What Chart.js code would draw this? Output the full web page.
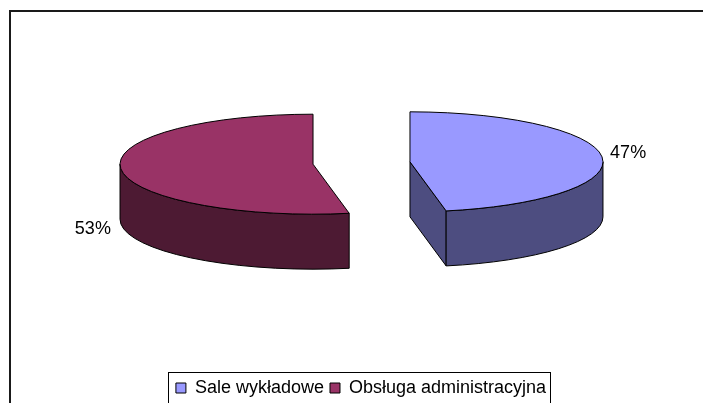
<!DOCTYPE html>
<html>
<head>
<meta charset="utf-8">
<style>
  html, body { margin: 0; padding: 0; background: #fff; }
  canvas { display: block; }
</style>
<script src="https://cdn.jsdelivr.net/npm/chart.js@4.4.1/dist/chart.umd.min.js"></script>
</head>
<body>
<canvas id="pie3d" width="703" height="403"></canvas>
<script>
// dane wykresu
const categories = ['Sale wykładowe', 'Obsługa administracyjna'];
const values = [47, 53];
const topColors = ['#9999FF', '#993366'];
const sideColors = ['#4D4D80', '#4D1A33'];

// wygląd "3D"
const CENTER_X = 361.5;   // środek nierozsuniętego tortu
const CENTER_Y = 163;
const RADIUS = 193;
const TILT = 0.259;       // spłaszczenie elipsy
const DEPTH = 55;         // grubość tortu
const EXPLODE = 48.7;     // rozsunięcie kawałków
const labelNudge = [[26, -4], [-28, 60]];
const FONT = '"Liberation Sans", Arial, sans-serif';

function sliceOrigin(arc) {
    const mid = (arc.startAngle + arc.endAngle) / 2;
    return {
        ox: CENTER_X + EXPLODE * Math.cos(mid),
        oy: CENTER_Y + EXPLODE * TILT * Math.sin(mid)
    };
}

function rim(ox, oy, a, dy) {
    return [ox + RADIUS * Math.cos(a), oy + RADIUS * TILT * Math.sin(a) + (dy || 0)];
}

const pie3dPlugin = {
    id: 'pie3d',
    beforeDraw(chart) {
        const ctx = chart.ctx;
        ctx.save();
        ctx.fillStyle = '#fff';
        ctx.fillRect(0, 0, chart.width, chart.height);
        ctx.restore();
    },
    beforeDatasetsDraw(chart) {
        const ctx = chart.ctx;
        const arcs = chart.getDatasetMeta(0).data;
        const ry = RADIUS * TILT;
        ctx.save();
        ctx.lineWidth = 1;
        ctx.strokeStyle = '#000';
        ctx.lineJoin = 'round';

        arcs.forEach((arc, i) => {
            const {ox, oy} = sliceOrigin(arc);
            const s = arc.startAngle, e = arc.endAngle;
            ctx.fillStyle = sideColors[i];

            // ścianki promieniowe widoczne od przodu
            [[s, s - Math.PI / 2], [e, e + Math.PI / 2]].forEach(([a, n]) => {
                if (Math.sin(n) <= 0.01) return;
                const p = rim(ox, oy, a);
                ctx.beginPath();
                ctx.moveTo(ox, oy);
                ctx.lineTo(p[0], p[1]);
                ctx.lineTo(p[0], p[1] + DEPTH);
                ctx.lineTo(ox, oy + DEPTH);
                ctx.closePath();
                ctx.fill();
                ctx.stroke();
            });

            // przednia ścianka łukowa
            const a0 = Math.max(s, 0), a1 = Math.min(e, Math.PI);
            if (a1 > a0) {
                ctx.beginPath();
                ctx.ellipse(ox, oy, RADIUS, ry, 0, a0, a1);
                const p1 = rim(ox, oy, a1, DEPTH);
                ctx.lineTo(p1[0], p1[1]);
                ctx.ellipse(ox, oy + DEPTH, RADIUS, ry, 0, a1, a0, true);
                ctx.closePath();
                ctx.fill();
                ctx.stroke();
            }

            // wierzch kawałka - rysuje go Chart.js w spłaszczonym układzie
            ctx.save();
            ctx.translate(ox, oy);
            ctx.scale(1, TILT);
            ctx.translate(-arc.x, -arc.y);
            arc.draw(ctx);
            ctx.restore();

            ctx.beginPath();
            ctx.moveTo(ox, oy);
            ctx.ellipse(ox, oy, RADIUS, ry, 0, s, e);
            ctx.closePath();
            ctx.stroke();
        });

        // etykiety procentowe
        const total = values.reduce((a, b) => a + b, 0);
        ctx.fillStyle = '#000';
        ctx.font = '18px ' + FONT;
        ctx.textAlign = 'center';
        ctx.textBaseline = 'middle';
        arcs.forEach((arc, i) => {
            const {ox, oy} = sliceOrigin(arc);
            const mid = (arc.startAngle + arc.endAngle) / 2;
            const p = rim(ox, oy, mid);
            const txt = Math.round(values[i] / total * 100) + '%';
            ctx.fillText(txt, p[0] + labelNudge[i][0], p[1] + labelNudge[i][1]);
        });
        ctx.restore();
        return false;
    },
    afterDraw(chart) {
        const ctx = chart.ctx;
        ctx.save();
        // ramka obszaru wykresu
        ctx.strokeStyle = '#1a1a1a';
        ctx.lineWidth = 2;
        ctx.beginPath();
        ctx.moveTo(10, chart.height + 5);
        ctx.lineTo(10, 11);
        ctx.lineTo(chart.width + 5, 11);
        ctx.stroke();

        // ramka legendy
        const hb = chart.legend.legendHitBoxes;
        if (hb && hb.length) {
            const last = hb[hb.length - 1];
            const cy = hb[0].top + hb[0].height / 2;
            ctx.strokeStyle = '#000';
            ctx.lineWidth = 1;
            const left = Math.round(hb[0].left - 8) + 0.5;
            const right = Math.round(last.left + last.width + 4) + 0.5;
            const top = Math.round(cy - 16) + 0.5;
            ctx.strokeRect(left, top, right - left, 34);
        }
        ctx.restore();
    }
};

new Chart(document.getElementById('pie3d'), {
    type: 'pie',
    data: {
        labels: categories,
        datasets: [{
            data: values,
            backgroundColor: topColors,
            borderWidth: 0,
            radius: RADIUS
        }]
    },
    options: {
        responsive: false,
        animation: false,
        events: [],
        layout: { padding: { left: 19, bottom: -4 } },
        plugins: {
            tooltip: { enabled: false },
            legend: {
                position: 'bottom',
                labels: {
                    boxWidth: 10,
                    boxHeight: 10,
                    padding: 6,
                    color: '#000',
                    font: { family: FONT, size: 18 },
                    generateLabels(chart) {
                        const items = Chart.overrides.pie.plugins.legend.labels.generateLabels(chart);
                        items.forEach(it => {
                            it.strokeStyle = '#000';
                            it.lineWidth = 1;
                        });
                        return items;
                    }
                }
            }
        }
    },
    plugins: [pie3dPlugin]
});
</script>
</body>
</html>
